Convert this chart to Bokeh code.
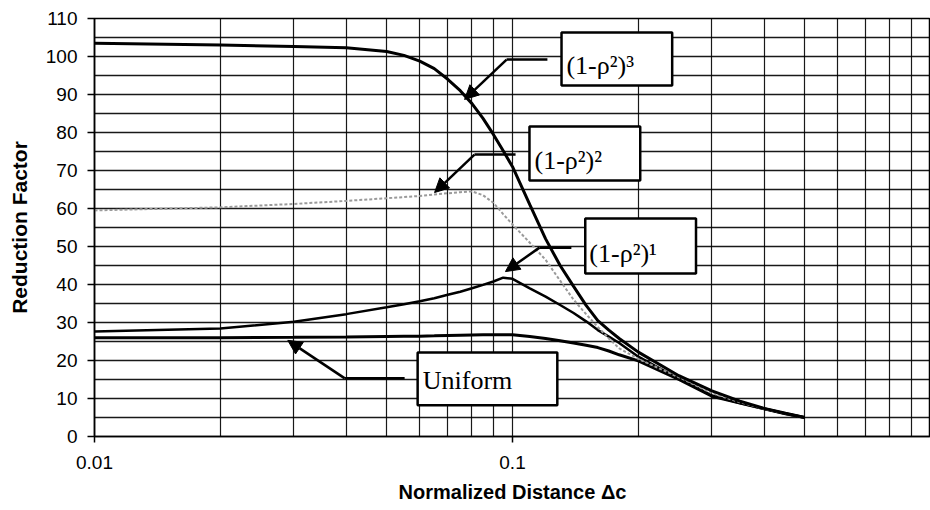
from bokeh.plotting import figure
from bokeh.models import (FixedTicker, Arrow, NormalHead, BoxAnnotation, Label,
                          CustomJSTickFormatter, Range1d)
from bokeh.embed import file_html
from bokeh.resources import INLINE

# ---------------- data ----------------
X = [0.01, 0.02, 0.03, 0.04, 0.05, 0.055, 0.06, 0.065, 0.07, 0.075, 0.08, 0.085,
     0.09, 0.095, 0.1, 0.11, 0.12, 0.13, 0.14, 0.15, 0.16, 0.17, 0.18, 0.2,
     0.25, 0.3, 0.35, 0.4, 0.45, 0.5]
RHO3 = [103.5, 103.0, 102.6, 102.3, 101.3, 100.3, 98.8, 96.8, 94.0, 91.0, 87.6, 83.7,
        79.5, 75.2, 71.0, 61.0, 52.0, 45.0, 39.5, 34.5, 30.5, 28.0, 25.8, 22.2,
        16.0, 12.0, 9.3, 7.4, 6.1, 5.0]
RHO2 = [59.5, 60.3, 61.2, 62.0, 62.7, 63.0, 63.3, 63.7, 64.0, 64.3, 64.5, 63.5,
        61.5, 58.5, 55.8, 51.0, 46.5, 41.0, 36.0, 32.2, 28.8, 25.8, 23.2, 20.4,
        15.6, 11.4, 9.0, 7.3, 6.0, 5.0]
RHO1 = [27.6, 28.4, 30.2, 32.2, 34.0, 34.8, 35.6, 36.4, 37.3, 38.1, 39.0, 39.9,
        40.8, 41.8, 41.5, 39.0, 36.8, 34.6, 32.5, 30.3, 28.0, 26.3, 24.6, 21.0,
        15.2, 10.8, 8.8, 7.3, 6.0, 5.0]
UNIFORM = [26.0, 26.0, 26.1, 26.2, 26.3, 26.35, 26.4, 26.5, 26.6, 26.65, 26.7, 26.75,
           26.8, 26.8, 26.8, 26.3, 25.8, 25.2, 24.6, 24.0, 23.4, 22.5, 21.5, 19.9,
           15.0, 10.6, 8.8, 7.3, 6.0, 5.0]

X_TICKS = [0.01, 0.1]
X_GRID = [0.01, 0.02, 0.03, 0.04, 0.05, 0.06, 0.07, 0.08, 0.09,
          0.1, 0.2, 0.3, 0.4, 0.5, 0.6, 0.7, 0.8, 0.9, 1.0]
Y_TICKS = list(range(0, 111, 10))
Y_GRID = list(range(0, 111, 5))

LABELS = ["(1-ρ²)³", "(1-ρ²)²", "(1-ρ²)¹", "Uniform"]
X_TITLE = "Normalized Distance Δc"
Y_TITLE = "Reduction Factor"

# annotation layout (callout boxes, text anchors, leader lines)
BOXES = [(0.131, 0.241, 106.3, 92.4),
         (0.1098, 0.2021, 81.6, 67.4),
         (0.1493, 0.2748, 57.4, 42.9),
         (0.0593, 0.128, 22.1, 8.2)]
TEXT_POS = [(0.1346, 97.6), (0.1129, 72.6), (0.1527, 48.2), (0.061, 14.7)]
LEADERS = [((0.1212, 99.2), (0.0968, 99.2), (0.0768, 88.7)),
           ((0.1017, 74.2), (0.0811, 74.2), (0.0651, 64.2)),
           ((0.1383, 49.7), (0.116, 49.7), (0.0962, 43.4)),
           ((0.0552, 15.3), (0.0397, 15.3), (0.029, 25.3))]

# ---------------- figure ----------------
p = figure(width=930, height=510, x_axis_type="log",
           x_range=Range1d(0.01, 1.0), y_range=Range1d(0, 110),
           output_backend="svg", toolbar_location=None,
           min_border_left=94, min_border_right=0,
           min_border_top=18, min_border_bottom=74)
p.background_fill_color = "white"
p.border_fill_color = "white"
p.outline_line_color = "black"
p.outline_line_width = 1.5

# axes
p.xaxis.ticker = FixedTicker(ticks=X_TICKS, minor_ticks=[])
p.xaxis.formatter = CustomJSTickFormatter(code="return tick.toString();")
p.yaxis.ticker = FixedTicker(ticks=Y_TICKS, minor_ticks=[])
for ax in (p.xaxis[0], p.yaxis[0]):
    ax.axis_line_color = "black"
    ax.axis_line_width = 1.5
    ax.major_tick_line_color = "black"
    ax.major_tick_line_width = 1.5
    ax.major_tick_in = 0
    ax.minor_tick_in = 0
    ax.minor_tick_out = 0
    ax.major_label_text_font = "Liberation Sans"
    ax.major_label_text_font_size = "19px"
    ax.major_label_text_color = "black"
    ax.axis_label_text_font = "Liberation Sans"
    ax.axis_label_text_font_style = "bold"
    ax.axis_label_text_color = "black"
p.xaxis.major_tick_out = 6
p.yaxis.major_tick_out = 7
p.xaxis.major_label_standoff = 13
p.yaxis.major_label_standoff = 10
p.yaxis.axis_label = Y_TITLE
p.yaxis.axis_label_text_font_size = "21px"
p.yaxis.axis_label_standoff = 12
p.xaxis.axis_label = X_TITLE
p.xaxis.axis_label_text_font_size = "20px"
p.xaxis.axis_label_standoff = 9

# grids
p.xgrid.ticker = FixedTicker(ticks=X_GRID)
p.ygrid.ticker = FixedTicker(ticks=Y_GRID)
p.xgrid.grid_line_color = "black"
p.xgrid.grid_line_width = 1.2
p.ygrid.grid_line_color = "black"
p.ygrid.grid_line_width = 1.5
p.xgrid.grid_line_alpha = 0.9
p.ygrid.grid_line_alpha = 0.9

# curves
p.line(X, UNIFORM, line_color="black", line_width=3)
p.line(X, RHO1, line_color="black", line_width=2.5)
p.line(X, RHO2, line_color="#9a9a9a", line_width=2, line_dash="3 2")
p.line(X, RHO3, line_color="black", line_width=3)

# callouts
for (l, r, t, b), (tx, ty), lab, (a, m, tip) in zip(BOXES, TEXT_POS, LABELS, LEADERS):
    p.add_layout(Arrow(end=None, x_start=a[0], y_start=a[1], x_end=m[0], y_end=m[1],
                       line_color="black", line_width=2.5))
    p.add_layout(Arrow(end=NormalHead(size=14, fill_color="black", line_color="black"),
                       x_start=m[0], y_start=m[1], x_end=tip[0], y_end=tip[1],
                       line_color="black", line_width=2.5))
    p.add_layout(BoxAnnotation(left=l, right=r, top=t, bottom=b,
                               fill_color="white", fill_alpha=1.0,
                               line_color="black", line_width=2.5, line_alpha=1.0))
    p.add_layout(Label(x=tx, y=ty, text=lab, text_font="Liberation Serif",
                       text_font_size="26px", text_color="black",
                       text_baseline="alphabetic", text_align="left"))

open("out.html", "w").write(file_html(p, INLINE))
